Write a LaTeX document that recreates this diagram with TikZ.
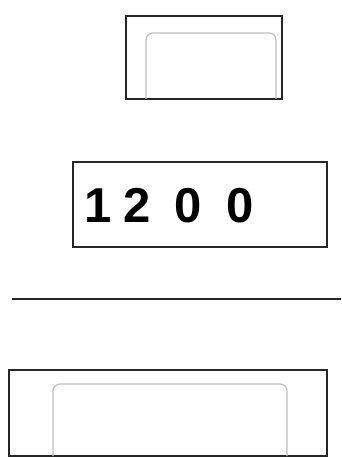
\documentclass[tikz,border=0pt]{standalone}
\usepackage{fontspec}
\setmainfont{Liberation Sans}
\usetikzlibrary{calc}

\begin{document}
\begin{tikzpicture}[
    x=1pt, y=-1pt,
    outerbox/.style={draw=black!85, line width=2.2pt},
    innerbox/.style={draw=gray!50, line width=1.2pt, rounded corners=7pt},
    digits/.style={font=\fontsize{49}{49}\selectfont\bfseries, inner sep=0pt, anchor=base west}
]
\useasboundingbox[fill=white] (0,0) rectangle (341,457);

% top key
\draw[outerbox] (126,16) rectangle (282,99);
\draw[innerbox] (146,99) -- (146,33) -- (276,33) -- (276,99);

% display
\draw[outerbox] (73,162) rectangle (327,247);
\node[digits] (value) at (84.6,222) {1\hspace{11.6pt}2\hspace{23.8pt}0\hspace{24.8pt}0};

% divider
\coordinate (lineleft) at (12,299);
\coordinate (lineright) at (341,299);
\draw[outerbox] (lineleft) -- (lineright);

% bottom key
\draw[outerbox] (9,370) rectangle (327,456);
\draw[innerbox] (53,456) -- (53,384) -- (287,384) -- (287,456);

\end{tikzpicture}
\end{document}
